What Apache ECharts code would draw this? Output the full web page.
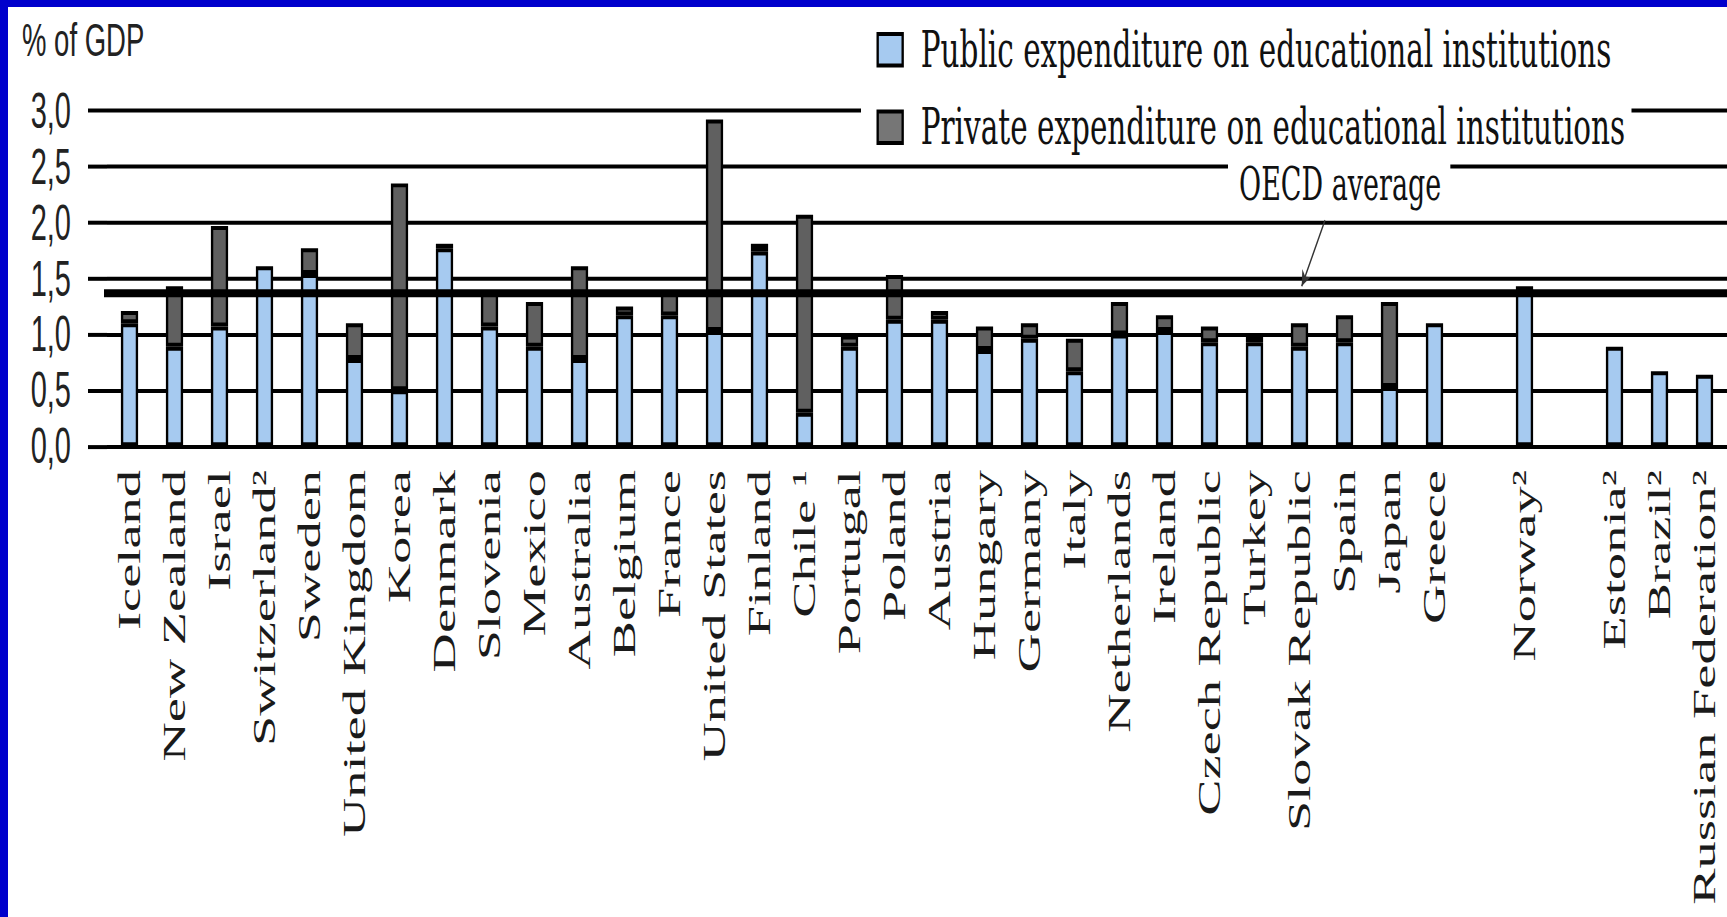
<!DOCTYPE html>
<html>
<head>
<meta charset="utf-8">
<script src="https://cdn.jsdelivr.net/npm/echarts@6/dist/echarts.min.js"></script>
<style>
html,body{margin:0;padding:0;background:#fff;overflow:hidden;}
#wrap{position:relative;width:1727px;height:917px;overflow:hidden;background:#fff;}
#chart{position:absolute;left:0;top:0;width:1727px;height:540px;transform:scaleY(1.7);transform-origin:0 0;}
.bl{position:absolute;background:#0000cc;z-index:5;}
</style>
</head>
<body>
<div id="wrap">
  <div id="chart"></div>
  <div class="bl" style="left:0;top:0;width:8px;height:917px"></div>
  <div class="bl" style="left:0;top:0;width:1727px;height:7px"></div>
</div>
<script>
// ---- data ----
const categories = ['Iceland','New Zealand','Israel','Switzerland²','Sweden','United Kingdom','Korea','Denmark','Slovenia','Mexico','Australia','Belgium','France','United States','Finland','Chile ¹','Portugal','Poland','Austria','Hungary','Germany','Italy','Netherlands','Ireland','Czech Republic','Turkey','Slovak Republic','Spain','Japan','Greece','','Norway²','','Estonia²','Brazil²','Russian Federation²'];
const publicExp  = [1.10,0.89,1.07,1.61,1.54,0.78,0.50,1.77,1.07,0.89,0.78,1.17,1.17,1.03,1.74,0.30,0.89,1.13,1.13,0.86,0.96,0.67,1.00,1.03,0.93,0.93,0.89,0.93,0.53,1.10,null,1.43,null,0.89,0.67,0.64];
const privateExp = [0.11,0.54,0.90,null,0.23,0.32,1.85,0.04,0.30,0.40,0.83,0.08,0.20,1.89,0.07,1.77,0.10,0.40,0.08,0.21,0.14,0.29,0.29,0.14,0.14,0.05,0.21,0.24,0.76,null,null,null,null,null,null,null];
const oecdAverage = 1.37;
const yTickLabels = ['0,0','0,5','1,0','1,5','2,0','2,5','3,0'];
const seriesNames = ['Public expenditure on educational institutions','Private expenditure on educational institutions'];
const yAxisTitle = '% of GDP';
const oecdLabel = 'OECD average';

const chart = echarts.init(document.getElementById('chart'), null, {renderer: 'svg'});
const option = {
  animation: false,
  backgroundColor: '#fff',
  title: [
    {
      text: yAxisTitle, left: 22, top: 10, padding: 0,
      textStyle: {fontFamily: 'Liberation Sans', fontSize: 27.5, lineHeight: 27, fontWeight: 'normal', color: '#222'}
    },
    {
      text: oecdLabel, left: 1228, top: 91, padding: [4, 9, 2, 11], backgroundColor: '#fff',
      textStyle: {fontFamily: 'DejaVu Serif', fontSize: 27, lineHeight: 27, fontWeight: 'normal', color: '#111'}
    }
  ],
  legend: {
    orient: 'vertical', left: 861, top: 9.3,
    padding: [5, 6, 5.5, 15.5],
    backgroundColor: '#fff',
    itemWidth: 25, itemHeight: 18.5, itemGap: 15.6,
    icon: 'rect', selectedMode: false,
    itemStyle: {borderColor: '#000', borderWidth: 2.35},
    textStyle: {fontFamily: 'DejaVu Serif', fontSize: 29.5, lineHeight: 30, color: '#111', padding: [0, 0, 0, 13]},
    data: [
      {name: seriesNames[0]},
      {name: seriesNames[1], itemStyle: {color: '#767676'}}
    ]
  },
  grid: {left: 107, right: 0, top: 65.1, height: 197.4, containLabel: false, outerBoundsMode: 'none'},
  xAxis: {
    type: 'category', data: categories, boundaryGap: true,
    axisLine: {show: false}, axisTick: {show: false}, splitLine: {show: false},
    axisLabel: {
      interval: 0, rotate: 90, margin: 14, padding: [0, 0, 10, 0],
      fontFamily: 'Liberation Serif', fontSize: 32, color: '#1a1a1a'
    }
  },
  yAxis: {
    type: 'value', min: 0, max: 3, interval: 0.5,
    axisLine: {show: false},
    axisTick: {show: true, length: 19, lineStyle: {color: '#000', width: 2.35}},
    splitLine: {show: true, lineStyle: {color: '#000', width: 2.35}},
    axisLabel: {
      margin: 36, padding: [5, 0, 0, 0],
      fontFamily: 'Liberation Sans', fontSize: 29, color: '#222',
      formatter: function (v) { return yTickLabels[Math.round(v / 0.5)]; }
    }
  },
  series: [
    {
      name: seriesNames[0], type: 'bar', stack: 'total', data: publicExp, barWidth: 17.2,
      itemStyle: {color: '#a6caf0', borderColor: '#000', borderWidth: 2.35},
      emphasis: {disabled: true},
      markLine: {
        silent: true, symbol: ['none', 'none'], label: {show: false}, emphasis: {disabled: true},
        data: [
          [
            {xAxis: 0, yAxis: oecdAverage, x: 104, lineStyle: {color: '#000', width: 4.7, type: 'solid'}},
            {xAxis: 35, yAxis: oecdAverage, x: 1727, lineStyle: {color: '#000', width: 4.7, type: 'solid'}}
          ],
          [
            {xAxis: 26, yAxis: 2.02, x: 1325, symbol: 'none', lineStyle: {color: '#333', width: 1.3, type: 'solid'}},
            {xAxis: 26, yAxis: oecdAverage + 0.06, x: 1301.7, symbol: 'arrow', symbolSize: [7, 9], lineStyle: {color: '#333', width: 1.3, type: 'solid'}}
          ]
        ]
      }
    },
    {
      name: seriesNames[1], type: 'bar', stack: 'total', data: privateExp, barWidth: 17.2,
      itemStyle: {color: '#606060', borderColor: '#000', borderWidth: 2.35},
      emphasis: {disabled: true}
    }
  ]
};
chart.setOption(option);
</script>
</body>
</html>
